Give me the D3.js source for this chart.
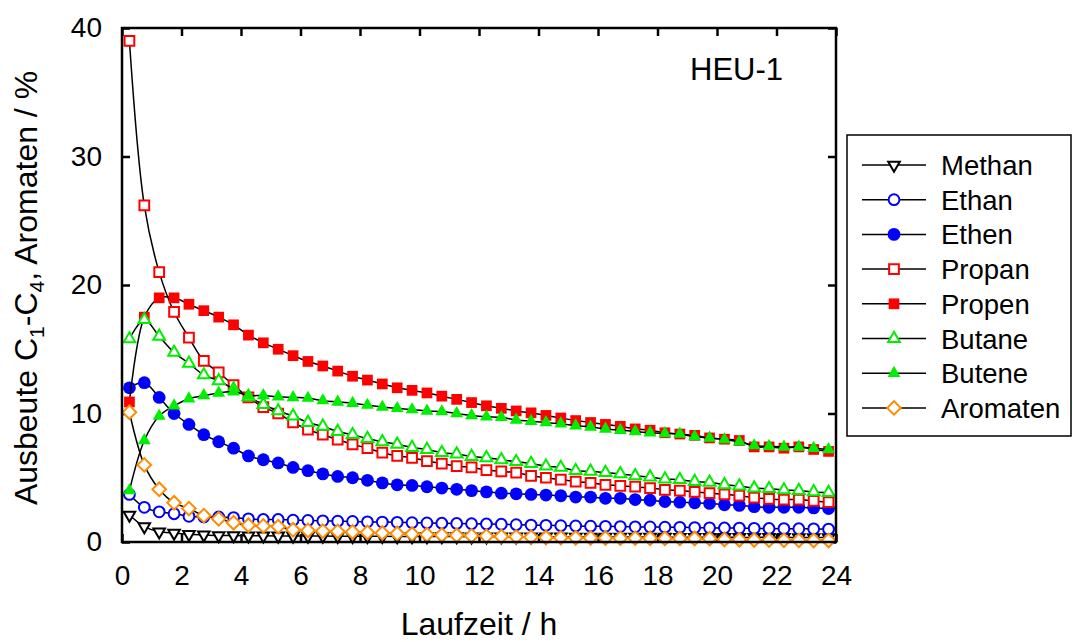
<!DOCTYPE html>
<html><head><meta charset="utf-8">
<script src="https://cdn.jsdelivr.net/npm/d3@7"></script>
<style>
html,body{margin:0;padding:0;background:#fff;}
svg text{font-family:Arial,"Liberation Sans",sans-serif;fill:#000;}
</style></head>
<body>
<svg id="chart" width="1073" height="642"></svg>
<script>
// ---------- data ----------
const times = [0.25,0.75,1.25,1.75,2.25,2.75,3.25,3.75,4.25,4.75,5.25,5.75,6.25,6.75,7.25,7.75,
  8.25,8.75,9.25,9.75,10.25,10.75,11.25,11.75,12.25,12.75,13.25,13.75,14.25,14.75,15.25,15.75,
  16.25,16.75,17.25,17.75,18.25,18.75,19.25,19.75,20.25,20.75,21.25,21.75,22.25,22.75,23.25,23.75];

const methan = [2.1,1.2,0.8,0.7,0.6,0.55,0.5,0.5,
  0.48,0.48,0.47,0.47,0.46,0.46,0.45,0.45,0.44,0.44,
  0.43,0.43,0.42,0.42,0.42,0.41,0.41,0.41,0.40,0.40,
  0.40,0.40,0.39,0.39,0.39,0.38,0.38,0.38,0.38,0.37,
  0.37,0.37,0.37,0.36,0.36,0.36,0.36,0.35,0.35,0.35];
const ethan = [3.7,2.7,2.35,2.2,2.0,1.95,1.95,1.9,1.8,1.75,1.75,1.7,
  1.68,1.65,1.62,1.6,1.57,1.55,1.53,1.5,1.48,1.46,1.44,1.42,1.4,1.38,1.35,1.32,1.3,1.27,
  1.25,1.23,1.22,1.2,1.18,1.17,1.15,1.14,1.12,1.1,1.09,1.08,1.06,1.05,1.04,1.03,1.02,1.0];
const ethen = [12.0,12.4,11.25,10.0,9.15,8.35,7.8,7.3,6.7,6.4,6.15,5.8,
  5.55,5.3,5.1,5.0,4.8,4.6,4.45,4.4,4.3,4.2,4.1,4.0,3.9,3.8,3.75,3.7,3.65,3.6,
  3.5,3.5,3.4,3.4,3.3,3.25,3.15,3.1,3.05,3.0,2.9,2.85,2.75,2.7,2.7,2.7,2.65,2.6];
const propan = [39.0,26.2,21.0,17.9,15.9,14.1,13.2,12.2,11.25,10.5,10.0,9.3,
  8.75,8.35,7.97,7.6,7.3,6.95,6.7,6.55,6.3,6.1,5.9,5.8,5.6,5.5,5.4,5.15,5.0,4.85,
  4.7,4.6,4.45,4.37,4.3,4.2,4.06,4.0,3.9,3.8,3.7,3.6,3.45,3.35,3.3,3.3,3.2,3.1];
const propen = [10.9,17.5,19.0,19.0,18.5,18.0,17.5,16.9,16.1,15.5,15.0,14.5,
  14.05,13.7,13.3,12.9,12.6,12.3,12.0,11.8,11.6,11.35,11.1,10.85,10.6,10.4,10.2,10.05,9.85,9.65,
  9.45,9.3,9.15,9.0,8.8,8.7,8.5,8.4,8.3,8.1,8.0,7.9,7.4,7.4,7.3,7.4,7.2,7.05];
const butane = [15.8,17.3,16.0,14.75,13.9,13.0,12.55,11.9,11.3,10.7,10.2,9.8,
  9.3,9.0,8.6,8.35,8.05,7.8,7.6,7.35,7.2,6.95,6.85,6.65,6.55,6.4,6.25,6.1,5.9,5.8,
  5.55,5.5,5.4,5.3,5.15,5.05,4.9,4.85,4.7,4.65,4.45,4.35,4.2,4.15,4.05,4.0,3.9,3.85];
const butene = [4.0,7.9,9.8,10.6,11.15,11.4,11.6,11.7,11.4,11.4,11.3,11.25,
  11.2,11.0,10.9,10.8,10.65,10.5,10.4,10.3,10.2,10.15,10.0,9.85,9.75,9.7,9.5,9.4,9.3,9.2,
  9.05,8.95,8.8,8.7,8.6,8.5,8.45,8.4,8.2,8.1,7.97,7.8,7.5,7.45,7.4,7.4,7.3,7.2];
const aromaten = [10.1,6.0,4.1,3.05,2.6,2.05,1.8,1.5,1.3,1.25,1.2,0.95,
  0.9,0.85,0.82,0.78,0.74,0.7,0.66,0.62,0.58,0.55,0.52,0.49,0.46,0.43,0.4,0.38,0.35,0.34,
  0.33,0.32,0.31,0.3,0.3,0.29,0.28,0.28,0.27,0.26,0.2,0.18,0.16,0.15,0.14,0.13,0.12,0.12];

const seriesNames = ["Methan","Ethan","Ethen","Propan","Propen","Butane","Butene","Aromaten"];
const seriesValues = [methan,ethan,ethen,propan,propen,butane,butene,aromaten];
const seriesColors = ["#000000","#0000ff","#0000ff","#ff0000","#ff0000","#00ee00","#00ee00","#ff8c00"];
const seriesFilled = [false,false,true,false,true,false,true,false];
const seriesShapes = ["triangleDown","circle","circle","square","square","triangle","triangle","diamond"];

const xTicks = [0,2,4,6,8,10,12,14,16,18,20,22,24];
const yTicks = [0,10,20,30,40];

// ---------- layout ----------
const svg = d3.select("#chart");
const L = 122, R = 836, T = 28, B = 542;
const x = d3.scaleLinear().domain([0,24]).range([L,R]);
const y = d3.scaleLinear().domain([0,40]).range([B,T]);

function symbolPath(shape, filled){
  if(shape==="circle") return {d: d3.symbol(d3.symbolCircle, Math.PI*Math.pow(filled?6.4:5.4,2))(), rot:0};
  if(shape==="square") return {d: d3.symbol(d3.symbolSquare, filled?115:95)(), rot:0};
  if(shape==="triangle") return {d: d3.symbol(d3.symbolTriangle, filled?72:60)(), rot:0};
  if(shape==="triangleDown") return {d: d3.symbol(d3.symbolTriangle, 58)(), rot:180};
  if(shape==="diamond") return {d: d3.symbol(d3.symbolSquare, 92)(), rot:45};
}

// axes (ticks inward, on all four sides)
const fs = 28;
const gx = svg.append("g").attr("transform",`translate(0,${B})`)
  .call(d3.axisBottom(x).tickValues(xTicks).tickSizeInner(-8).tickSizeOuter(0).tickPadding(23));
const gxt = svg.append("g").attr("transform",`translate(0,${T})`)
  .call(d3.axisTop(x).tickValues(xTicks).tickSizeInner(-8).tickSizeOuter(0).tickFormat(""));
const gy = svg.append("g").attr("transform",`translate(${L},0)`)
  .call(d3.axisLeft(y).tickValues(yTicks).tickSizeInner(-8).tickSizeOuter(0).tickPadding(20));
const gyr = svg.append("g").attr("transform",`translate(${R},0)`)
  .call(d3.axisRight(y).tickValues(yTicks).tickSizeInner(-8).tickSizeOuter(0).tickFormat(""));
[gx,gxt,gy,gyr].forEach(g=>{
  g.select(".domain").remove();
  g.selectAll(".tick line").attr("stroke","#000").attr("stroke-width",2.5);
  g.selectAll(".tick text").attr("font-size",fs).attr("fill","#000")
    .attr("font-family","Arial, 'Liberation Sans', sans-serif");
});

// series
const line = d3.line().x((d,i)=>x(times[i])).y(d=>y(d)).curve(d3.curveCatmullRom.alpha(0.5));
seriesValues.forEach((vals,si)=>{
  const g = svg.append("g");
  g.append("path").attr("d",line(vals)).attr("fill","none").attr("stroke","#000").attr("stroke-width",1.5);
  const sp = symbolPath(seriesShapes[si], seriesFilled[si]);
  g.selectAll("path.m").data(vals).join("path").attr("class","m")
    .attr("d",sp.d)
    .attr("transform",(d,i)=>`translate(${x(times[i])},${y(d)}) rotate(${sp.rot})`)
    .attr("fill", seriesFilled[si] ? seriesColors[si] : "#fff")
    .attr("stroke", seriesFilled[si] ? "none" : seriesColors[si])
    .attr("stroke-width",2);
});

// frame
svg.append("rect").attr("x",L).attr("y",T).attr("width",R-L).attr("height",B-T)
  .attr("fill","none").attr("stroke","#000").attr("stroke-width",2.5);

// annotation
svg.append("text").attr("x",690).attr("y",80).attr("font-size",31).text("HEU-1");

// axis titles
svg.append("text").attr("x",(L+R)/2).attr("y",635).attr("text-anchor","middle")
  .attr("font-size",32).text("Laufzeit / h");
const yt = svg.append("text").attr("transform","translate(37,288) rotate(-90)")
  .attr("text-anchor","middle").attr("font-size",32);
yt.append("tspan").text("Ausbeute C");
yt.append("tspan").attr("font-size",21).attr("dy",7).text("1");
yt.append("tspan").attr("dy",-7).text("-C");
yt.append("tspan").attr("font-size",21).attr("dy",7).text("4");
yt.append("tspan").attr("dy",-7).text(", Aromaten / %");

// legend
const lg = svg.append("g");
lg.append("rect").attr("x",847).attr("y",135).attr("width",224).attr("height",301)
  .attr("fill","#fff").attr("stroke","#000").attr("stroke-width",1.5);
seriesNames.forEach((name,si)=>{
  const cy = 165 + si*34.7;
  lg.append("line").attr("x1",862).attr("x2",926).attr("y1",cy).attr("y2",cy)
    .attr("stroke","#000").attr("stroke-width",1.5);
  const sp = symbolPath(seriesShapes[si], seriesFilled[si]);
  lg.append("path").attr("d",sp.d)
    .attr("transform",`translate(894,${cy}) rotate(${sp.rot})`)
    .attr("fill", seriesFilled[si] ? seriesColors[si] : "#fff")
    .attr("stroke", seriesFilled[si] ? "none" : seriesColors[si])
    .attr("stroke-width",2);
  lg.append("text").attr("x",941).attr("y",cy+10).attr("font-size",27.5).text(name);
});
</script>
</body></html>
